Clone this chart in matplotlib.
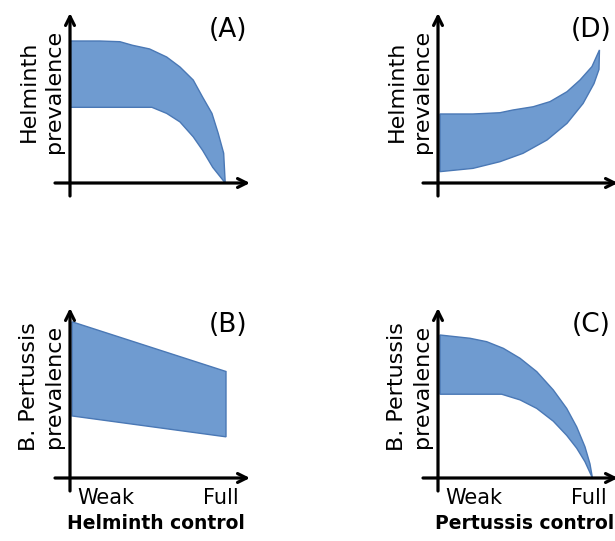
import matplotlib.pyplot as plt

# band edges, x: 0 = weak control (y-axis), 1 = full control; y: 0 = x-axis
a_top_x = [0.0, 0.19, 0.32, 0.40, 0.51, 0.62, 0.705, 0.79, 0.85, 0.91, 0.95, 0.985, 0.995]
a_top_y = [1.0, 1.0, 0.995, 0.97, 0.944, 0.887, 0.817, 0.725, 0.605, 0.49, 0.35, 0.21, 0.0]
a_low_x = [0.0, 0.525, 0.62, 0.705, 0.79, 0.85, 0.915, 0.995]
a_low_y = [0.533, 0.533, 0.49, 0.43, 0.325, 0.23, 0.11, 0.0]

d_top_x = [0.013, 0.224, 0.397, 0.48, 0.61, 0.718, 0.827, 0.91, 0.987, 1.035]
d_top_y = [0.486, 0.486, 0.495, 0.514, 0.537, 0.573, 0.643, 0.725, 0.82, 0.937]
d_low_x = [0.013, 0.224, 0.397, 0.545, 0.699, 0.827, 0.93, 1.0, 1.032]
d_low_y = [0.08, 0.103, 0.15, 0.209, 0.303, 0.42, 0.56, 0.70, 0.80]

b_top_x = [0.013, 1.0]
b_top_y = [1.10, 0.75]
b_low_x = [0.013, 1.0]
b_low_y = [0.437, 0.29]

c_top_x = [0.013, 0.205, 0.312, 0.419, 0.526, 0.633, 0.739, 0.825, 0.889, 0.942, 0.974, 0.99]
c_top_y = [1.007, 0.984, 0.96, 0.913, 0.843, 0.749, 0.62, 0.49, 0.36, 0.22, 0.10, 0.0]
c_low_x = [0.013, 0.408, 0.526, 0.633, 0.739, 0.825, 0.889, 0.942, 0.99]
c_low_y = [0.59, 0.59, 0.55, 0.49, 0.40, 0.30, 0.21, 0.115, 0.0]

fill_col = '#6f9bd0'
edge_col = '#4a78b5'

W, H = 615, 541
fig = plt.figure(figsize=(6.15, 5.41), dpi=100)


def panel(ox, oy, tx, ty, lx, ly, letter, ylab, xlab=None, letter_x=0.88):
    # axes origin at pixel (ox, oy); 156 px = 1 unit in x, 142 px = 1 unit in y
    ax = fig.add_axes([ox / W, 1 - oy / H, 180 / W, 170 / H])
    ax.set_xlim(0, 180 / 156)
    ax.set_ylim(0, 170 / 142)
    ax.axis('off')
    ax.fill(list(tx) + list(lx)[::-1], list(ty) + list(ly)[::-1],
            facecolor=fill_col, edgecolor=edge_col, lw=1.0, clip_on=False)
    arrow = dict(arrowstyle='->', lw=2.3, color='black', mutation_scale=16,
                 shrinkA=0, shrinkB=0)
    ax.annotate('', xy=(1, 0), xytext=(-15 / 180, 0), xycoords='axes fraction',
                arrowprops=arrow, annotation_clip=False)
    ax.annotate('', xy=(0, 1), xytext=(0, -13 / 170), xycoords='axes fraction',
                arrowprops=arrow, annotation_clip=False)
    ax.text(letter_x, 0.90, letter, transform=ax.transAxes, fontsize=19,
            ha='center', va='center')
    ax.text(-0.16, 0.54, ylab, transform=ax.transAxes, fontsize=16,
            rotation=90, ha='center', va='center', linespacing=1.3)
    if xlab:
        ax.text(0.04, -0.12, 'Weak', transform=ax.transAxes, fontsize=15,
                ha='left', va='center')
        ax.text(0.935, -0.12, 'Full', transform=ax.transAxes, fontsize=15,
                ha='right', va='center')
        ax.text(0.48, -0.27, xlab, transform=ax.transAxes, fontsize=13.5,
                fontweight='bold', ha='center', va='center')
    return ax


panel(70, 183, a_top_x, a_top_y, a_low_x, a_low_y, '(A)', 'Helminth\nprevalence')
panel(438, 183, d_top_x, d_top_y, d_low_x, d_low_y, '(D)', 'Helminth\nprevalence',
      letter_x=0.85)
panel(70, 478, b_top_x, b_top_y, b_low_x, b_low_y, '(B)', 'B. Pertussis\nprevalence',
      'Helminth control')
panel(438, 478, c_top_x, c_top_y, c_low_x, c_low_y, '(C)', 'B. Pertussis\nprevalence',
      'Pertussis control', letter_x=0.85)

fig.savefig('out.png', dpi=100)
